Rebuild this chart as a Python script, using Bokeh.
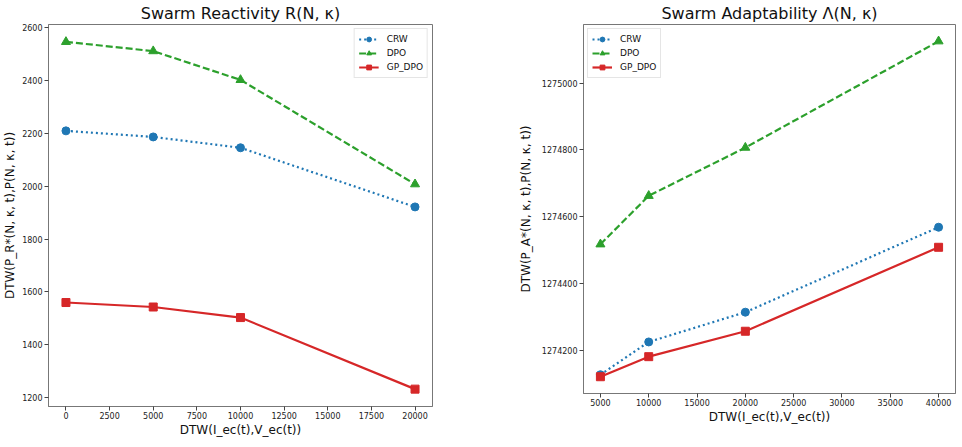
from bokeh.plotting import figure
from bokeh.layouts import row, column
from bokeh.models import FixedTicker, BasicTickFormatter, Range1d, Legend, LegendItem
from bokeh.embed import file_html
from bokeh.resources import INLINE

# ---- data: swarm reactivity ----
react_x = [0, 5000, 10000, 20000]
react_crw = [2210, 2187, 2146, 1922]
react_dpo = [2547, 2512, 2403, 2008]
react_gp_dpo = [1560, 1543, 1503, 1232]
react_xticks = [0, 2500, 5000, 7500, 10000, 12500, 15000, 17500, 20000]
react_yticks = [1200, 1400, 1600, 1800, 2000, 2200, 2400, 2600]

# ---- data: swarm adaptability ----
adapt_x = [5000, 10000, 20000, 40000]
adapt_crw = [1274128, 1274226, 1274315, 1274569]
adapt_dpo = [1274518, 1274663, 1274807, 1275125]
adapt_gp_dpo = [1274122, 1274182, 1274258, 1274509]
adapt_xticks = [5000, 10000, 15000, 20000, 25000, 30000, 35000, 40000]
adapt_yticks = [1274200, 1274400, 1274600, 1274800, 1275000]

BLUE, GREEN, RED = "#1f77b4", "#2ca02c", "#d62728"
FONT = "DejaVu Sans"


def padded(lo, hi, frac=0.05):
    span = hi - lo
    return Range1d(lo - frac * span, hi + frac * span)


def make_panel(title, xs, crw, dpo, gp, xticks, yticks, xlabel, ylabel,
               width, border_left, border_right, border_top, border_bottom,
               frame_h, legend_loc, ylabel_standoff):
    ys = crw + dpo + gp
    p = figure(width=width, height=border_top + frame_h + border_bottom,
               output_backend="svg", toolbar_location=None,
               x_range=padded(min(xs), max(xs)), y_range=padded(min(ys), max(ys)),
               min_border_left=border_left, min_border_right=border_right,
               min_border_top=border_top, min_border_bottom=border_bottom)
    p.title.text = title
    p.title.align = "center"
    p.title.text_font = FONT
    p.title.text_font_size = "16px"
    p.title.text_font_style = "normal"
    p.title.text_color = "#111111"
    p.title.standoff = 3
    p.title.offset = 0

    p.xgrid.visible = False
    p.ygrid.visible = False
    p.outline_line_color = "#777777"
    p.outline_line_width = 1

    for ax in (p.xaxis[0], p.yaxis[0]):
        ax.axis_line_color = "#777777"
        ax.major_tick_line_color = "#444444"
        ax.major_tick_in = 0
        ax.major_tick_out = 4
        ax.minor_tick_line_color = None
        ax.major_label_text_font = FONT
        ax.major_label_text_font_size = "8px"
        ax.major_label_text_color = "#222222"
        ax.major_label_standoff = 2
        ax.axis_label_text_font = FONT
        ax.axis_label_text_font_size = "12px"
        ax.axis_label_text_font_style = "normal"
        ax.axis_label_text_color = "#111111"
        ax.formatter = BasicTickFormatter(use_scientific=False)
    p.xaxis[0].ticker = FixedTicker(ticks=xticks)
    p.yaxis[0].ticker = FixedTicker(ticks=yticks)
    p.xaxis[0].axis_label = xlabel
    p.yaxis[0].axis_label = ylabel
    p.xaxis[0].major_label_standoff = 1
    p.xaxis[0].axis_label_standoff = 1
    p.yaxis[0].axis_label_standoff = ylabel_standoff

    l1 = p.line(xs, crw, color=BLUE, line_width=2.2, line_dash="2 3")
    m1 = p.scatter(xs, crw, marker="circle", size=8, color=BLUE)
    l2 = p.line(xs, dpo, color=GREEN, line_width=2.2, line_dash="7 3")
    m2 = p.scatter(xs, dpo, marker="triangle", size=9, color=GREEN)
    l3 = p.line(xs, gp, color=RED, line_width=2.2)
    m3 = p.scatter(xs, gp, marker="square", size=8, color=RED)

    legend = Legend(items=[
        LegendItem(label="CRW", renderers=[l1, m1]),
        LegendItem(label="DPO", renderers=[l2, m2]),
        LegendItem(label="GP_DPO", renderers=[l3, m3]),
    ], location=legend_loc)
    legend.label_text_font = FONT
    legend.label_text_font_size = "9px"
    legend.label_text_color = "#111111"
    legend.glyph_width = 20
    legend.glyph_height = 12
    legend.label_height = 12
    legend.label_standoff = 8
    legend.spacing = 2
    legend.padding = 4
    legend.margin = 4
    legend.border_line_color = "#cccccc"
    legend.border_line_width = 1
    legend.background_fill_alpha = 0.8
    p.add_layout(legend)
    return p


p1 = make_panel("Swarm Reactivity R(N, κ)", react_x, react_crw, react_dpo, react_gp_dpo,
                react_xticks, react_yticks,
                "DTW(I_ec(t),V_ec(t))", "DTW(P_R*(N, κ, t),P(N, κ, t))",
                width=480, border_left=48, border_right=48, border_top=24,
                border_bottom=41, frame_h=382, legend_loc="top_right",
                ylabel_standoff=2)
p2 = make_panel("Swarm Adaptability Λ(N, κ)", adapt_x, adapt_crw, adapt_dpo, adapt_gp_dpo,
                adapt_xticks, adapt_yticks,
                "DTW(I_ec(t),V_ec(t))", "DTW(P_A*(N, κ, t),P(N, κ, t))",
                width=482, border_left=103, border_right=7, border_top=23,
                border_bottom=54, frame_h=370, legend_loc="top_left",
                ylabel_standoff=6)

# each panel sits in its own column so the two frames keep their own heights
p = row(column(p1), column(p2))
open("out.html", "w").write(file_html(p, INLINE))
